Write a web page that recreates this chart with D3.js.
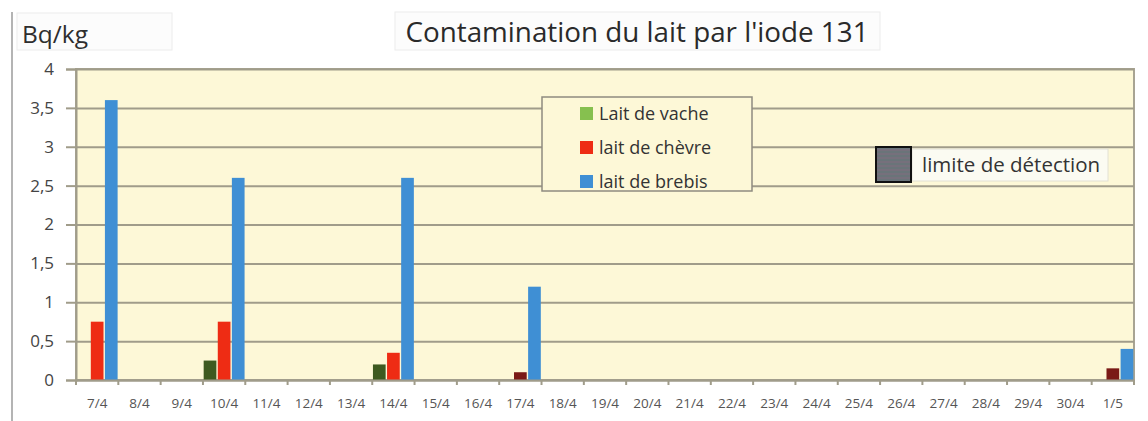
<!DOCTYPE html>
<html>
<head>
<meta charset="utf-8">
<script src="https://cdn.jsdelivr.net/npm/d3@7"></script>
<style>
  body { margin: 0; background: #fff; }
  text { font-family: 'Open Sans', Lato, sans-serif; }
</style>
</head>
<body>
<div class="chart"></div>
<script>
var svgWidth = 1148;
var svgHeight = 421;

// Données
var categories = ['7/4', '8/4', '9/4', '10/4', '11/4', '12/4', '13/4', '14/4', '15/4', '16/4',
  '17/4', '18/4', '19/4', '20/4', '21/4', '22/4', '23/4', '24/4', '25/4', '26/4',
  '27/4', '28/4', '29/4', '30/4', '1/5'];
var laitVache  = [0, 0, 0, 0.25, 0, 0, 0, 0.2, 0, 0, 0, 0, 0, 0, 0, 0, 0, 0, 0, 0, 0, 0, 0, 0, 0];
var laitChevre = [0.75, 0, 0, 0.75, 0, 0, 0, 0.35, 0, 0, 0.1, 0, 0, 0, 0, 0, 0, 0, 0, 0, 0, 0, 0, 0, 0.15];
var laitBrebis = [3.6, 0, 0, 2.6, 0, 0, 0, 2.6, 0, 0, 1.2, 0, 0, 0, 0, 0, 0, 0, 0, 0, 0, 0, 0, 0, 0.4];
// points au niveau de la limite de détection (couleur foncée)
var limiteVache = ['10/4', '14/4'];
var limiteChevre = ['17/4', '1/5'];
var limiteBrebis = [];
var seriesNames = ['Lait de vache', 'lait de chèvre', 'lait de brebis'];
var yTicks = [0, 0.5, 1, 1.5, 2, 2.5, 3, 3.5, 4];

var colors = ['#86c04f', '#ee2c14', '#3f8fd4'];
var darkColors = ['#3e5a20', '#7a1a16', '#1f4f80'];

var margin = { top: 69, right: 14, bottom: 41, left: 76 };
var width = svgWidth - margin.left - margin.right;
var height = svgHeight - margin.top - margin.bottom;

var series = [
  { name: seriesNames[0], values: laitVache, limite: limiteVache },
  { name: seriesNames[1], values: laitChevre, limite: limiteChevre },
  { name: seriesNames[2], values: laitBrebis, limite: limiteBrebis }
];

var fr = d3.formatLocale({ decimal: ',', thousands: ' ', grouping: [3], currency: ['', ' €'] });

var svg = d3.select('.chart')
  .append('svg')
  .attr('width', svgWidth)
  .attr('height', svgHeight);

svg.append('rect').attr('width', svgWidth).attr('height', svgHeight).attr('fill', '#fff');

// cadre gauche
svg.append('line')
  .attr('x1', 12).attr('x2', 12).attr('y1', 12).attr('y2', svgHeight)
  .attr('stroke', '#b4b4b4').attr('stroke-width', 2);

// boîte unité
svg.append('rect')
  .attr('x', 17).attr('y', 13).attr('width', 155).attr('height', 37)
  .attr('fill', '#fcfcfc').attr('stroke', '#ececec');
svg.append('text')
  .attr('x', 22).attr('y', 43)
  .attr('font-size', 24.5).attr('fill', '#2e2e2e')
  .text('Bq/kg');

// titre
svg.append('rect')
  .attr('x', 395).attr('y', 12).attr('width', 485).attr('height', 38)
  .attr('fill', '#fcfcfc').attr('stroke', '#ececec');
svg.append('text')
  .attr('x', 637).attr('y', 42)
  .attr('text-anchor', 'middle')
  .attr('font-size', 27.8).attr('fill', '#2a2a2a')
  .text("Contamination du lait par l'iode 131");

var chartGroup = svg.append('g')
  .attr('transform', `translate(${margin.left}, ${margin.top})`);

var x0 = d3.scaleBand()
  .domain(categories)
  .range([0, width])
  .paddingInner(0);

var x1 = d3.scaleBand()
  .domain(d3.range(series.length))
  .range([0, x0.bandwidth()])
  .paddingInner(0.1)
  .paddingOuter(0.05);

var y = d3.scaleLinear()
  .domain([0, 4])
  .range([height, 0]);

// fond
chartGroup.append('rect')
  .attr('width', width).attr('height', height)
  .attr('fill', '#fdf8d7')
  .attr('stroke', '#a8a493').attr('stroke-width', 2);

// grille
chartGroup.append('g')
  .call(d3.axisLeft(y).tickValues(yTicks).tickSize(-width).tickFormat(''))
  .call(g => g.select('.domain').remove())
  .call(g => g.selectAll('line').attr('stroke', '#a09c8a').attr('stroke-width', 2));

// barres
series.forEach(function(s, i) {
  chartGroup.append('g')
    .selectAll('rect')
    .data(categories.map((c, j) => ({ cat: c, value: s.values[j] })).filter(d => d.value > 0))
    .enter()
    .append('rect')
    .attr('x', d => x0(d.cat) + x1(i))
    .attr('y', d => y(d.value))
    .attr('width', x1.bandwidth())
    .attr('height', d => height - y(d.value))
    .attr('fill', d => s.limite.indexOf(d.cat) >= 0 ? darkColors[i] : colors[i]);
});

// axe Y
var leftAxis = d3.axisLeft(y).tickValues(yTicks).tickSize(10).tickPadding(12)
  .tickFormat(d => fr.format(',.1~f')(d));
chartGroup.append('g')
  .call(leftAxis)
  .call(g => g.select('.domain').attr('stroke', '#a09c8a').attr('stroke-width', 2))
  .call(g => g.selectAll('line').attr('stroke', '#a09c8a').attr('stroke-width', 2))
  .call(g => g.selectAll('text')
    .attr('font-size', 17).attr('fill', '#444')
    .style('font-family', "'Open Sans', sans-serif"));

// axe X
var bottomAxis = d3.axisBottom(x0).tickSize(0).tickPadding(18);
var xAxisG = chartGroup.append('g')
  .attr('transform', `translate(0, ${height})`)
  .call(bottomAxis)
  .call(g => g.select('.domain').attr('stroke', '#a09c8a').attr('stroke-width', 2))
  .call(g => g.selectAll('text')
    .attr('font-size', 13.5).attr('fill', '#555')
    .style('font-family', "'Open Sans', sans-serif"));

xAxisG.selectAll('.sep')
  .data(categories.concat(['']))
  .enter()
  .append('line')
  .attr('x1', (d, i) => i * x0.step())
  .attr('x2', (d, i) => i * x0.step())
  .attr('y1', 0).attr('y2', 5)
  .attr('stroke', '#a09c8a').attr('stroke-width', 2);

// légende
var legend = svg.append('g').attr('transform', 'translate(542, 97)');
legend.append('rect')
  .attr('width', 210).attr('height', 94)
  .attr('fill', '#fdf8d7').attr('stroke', '#8e8b80').attr('stroke-width', 1.5);
var items = legend.selectAll('.item')
  .data(series)
  .enter()
  .append('g')
  .attr('transform', (d, i) => `translate(38, ${17 + i * 34})`);
items.append('rect')
  .attr('y', -7).attr('width', 13).attr('height', 13)
  .attr('fill', (d, i) => colors[i]);
items.append('text')
  .attr('x', 19).attr('y', 6)
  .attr('font-size', 18).attr('fill', '#333')
  .text(d => d.name);

// limite de détection
var pat = svg.append('defs').append('pattern')
  .attr('id', 'hatch').attr('patternUnits', 'userSpaceOnUse')
  .attr('width', 4).attr('height', 4);
pat.append('rect').attr('width', 4).attr('height', 4).attr('fill', '#76707c');
pat.append('rect').attr('width', 4).attr('height', 2).attr('fill', '#6a7479');

var lim = svg.append('g').attr('transform', 'translate(876, 147)');
lim.append('rect')
  .attr('x', 36).attr('y', 2).attr('width', 196).attr('height', 32)
  .attr('fill', '#fbfbf2').attr('stroke', '#e2e0d4');
lim.append('rect')
  .attr('width', 35).attr('height', 35)
  .attr('fill', 'url(#hatch)').attr('stroke', '#111').attr('stroke-width', 2);
lim.append('text')
  .attr('x', 46).attr('y', 24.5)
  .attr('font-size', 20.5).attr('fill', '#333')
  .text('limite de détection');
</script>
</body>
</html>
